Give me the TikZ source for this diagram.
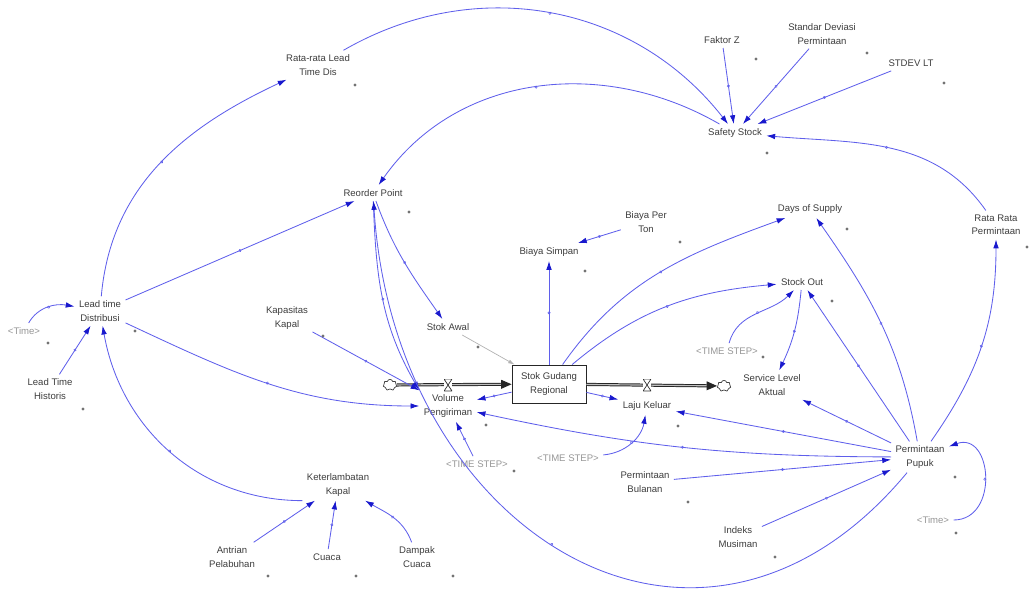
\documentclass[tikz,border=0pt]{standalone}
\usepackage{fontspec}
\setmainfont{Liberation Sans}
\usepackage{tikz}
\usepackage{xcolor}
\usetikzlibrary{shapes,arrows.meta,positioning,calc,decorations.markings}
\definecolor{linkBlue}{RGB}{95,95,235}
\definecolor{headBlue}{RGB}{25,25,205}
\definecolor{labelGray}{RGB}{60,60,60}
\definecolor{ghostGray}{RGB}{150,150,150}

\begin{document}
\begin{tikzpicture}[
            x=0.025cm, y=0.025cm,
            var/.style={align=center, inner sep=3pt, font=\fontsize{6.8}{9.5}\selectfont, text=labelGray},
            ghost/.style={var, text=ghostGray},
            stock/.style={rectangle, draw=black!85, fill=white, line width=0.6pt, minimum width=1.85cm, minimum height=0.95cm, align=center, font=\fontsize{6.8}{9.5}\selectfont, text=labelGray},
            link/.style={draw=linkBlue, line width=0.6pt, -{Latex[length=2.2mm,width=1.4mm,color=headBlue]},
                postaction={decorate}, decoration={markings, mark=at position 0.5 with {\draw[linkBlue, line width=0.4pt] (0,0) circle (0.8pt);}}},
            initlink/.style={draw=black!30, line width=0.5pt, -{Latex[length=1.6mm,width=1mm]}},
            pipe/.style={draw=black!85, double=black!25, double distance=0.8pt, line width=0.7pt, -{Triangle[length=2.6mm,width=2.2mm]}},
            valve/.style={minimum width=0.2cm, minimum height=0.3cm, inner sep=0pt, fill=white,
                path picture={\draw[black!80, line width=0.5pt] (path picture bounding box.north west) -- (path picture bounding box.north east) -- (path picture bounding box.south west) -- (path picture bounding box.south east) -- cycle;}},
            cloudy/.style={cloud, cloud puffs=7, draw=black!75, fill=white, line width=0.5pt, minimum width=0.34cm, minimum height=0.28cm, inner sep=0pt},
            dotmark/.style={circle, fill=black!55, inner sep=0pt, minimum size=2.2pt}
        ]
            \useasboundingbox (0,0) rectangle (1029,-592);

            % Variables
            \node[var] (rlt) at (318,-65) {Rata-rata Lead\\Time Dis};
            \node[var] (fz) at (722,-40) {Faktor Z};
            \node[var] (sdp) at (822,-34) {Standar Deviasi\\Permintaan};
            \node[var] (stdlt) at (911,-63) {STDEV LT};
            \node[var] (ss) at (735,-133) {Safety Stock};
            \node[var] (rop) at (373,-193) {Reorder Point};
            \node[var] (bpt) at (646,-222) {Biaya Per\\Ton};
            \node[var] (bs) at (549,-252) {Biaya Simpan};
            \node[var] (dos) at (810,-209) {Days of Supply};
            \node[var] (rrp) at (996,-225) {Rata Rata\\Permintaan};
            \node[var] (so) at (802,-282) {Stock Out};
            \node[var] (ltd) at (100,-311) {Lead time\\Distribusi};
            \node[ghost] (timeA) at (24,-331) {\textless Time\textgreater};
            \node[var] (lth) at (50,-389) {Lead Time\\Historis};
            \node[var] (kk) at (287,-318) {Kapasitas\\Kapal};
            \node[var] (sa) at (448,-327) {Stok Awal};
            \node[var] (vp) at (448,-406) {Volume\\Pengiriman};
            \node[var] (lk) at (647,-406) {Laju Keluar};
            \node[ghost] (tsA) at (727,-351) {\textless TIME STEP\textgreater};
            \node[var] (sla) at (772,-385) {Service Level\\Aktual};
            \node[ghost] (tsB) at (477,-464) {\textless TIME STEP\textgreater};
            \node[ghost] (tsC) at (568,-458) {\textless TIME STEP\textgreater};
            \node[var] (pp) at (920,-457) {Permintaan\\Pupuk};
            \node[var] (pb) at (645,-482) {Permintaan\\Bulanan};
            \node[var] (im) at (738,-537) {Indeks\\Musiman};
            \node[ghost] (timeB) at (933,-520) {\textless Time\textgreater};
            \node[var] (ktk) at (338,-485) {Keterlambatan\\Kapal};
            \node[var] (ap) at (232,-557) {Antrian\\Pelabuhan};
            \node[var] (cu) at (327,-557) {Cuaca};
            \node[var] (dc) at (417,-557) {Dampak\\Cuaca};

            % Stock and flows
            \node[stock] (sgr) at (549,-384) {Stok Gudang\\Regional};
            \node[cloudy] (cL) at (390,-385) {};
            \node[cloudy] (cR) at (724,-386) {};
            \draw[pipe] (cL) -- (sgr);
            \draw[pipe] (sgr) -- (cR);
            \node[valve] (vL) at (448,-385) {};
            \node[valve] (vR) at (647,-385) {};

            % Links
            \draw[link] (ltd) to[out=85, in=205] (rlt);
            \draw[link] (rlt) to[out=30, in=128] (ss);
            \draw[link] (ss) to[out=150, in=55] (rop);
            \draw[link] (fz) -- (ss);
            \draw[link] (sdp) -- (ss);
            \draw[link] (stdlt) -- (ss);
            \draw[link] (rrp) to[out=125, in=-5] (ss);
            \draw[link] (ltd) -- (rop);
            \draw[link] (rop) to[out=-70, in=125] (sa);
            \draw[link] (rop) to[out=-88, in=120] (vp.north west);
            \draw[link] (pp) .. controls (700,-722) and (395,-535) .. (rop);
            \draw[link] (sgr) -- (bs);
            \draw[link] (bpt) -- (bs);
            \draw[link] (sgr) to[out=55, in=200] (dos);
            \draw[link] (sgr) to[out=40, in=185] (so);
            \draw[link] (tsA) to[out=75, in=225] (so);
            \draw[link] (so) to[bend left=10] (sla);
            \draw[link] (pp) -- (sla);
            \draw[link] (pp) -- (so);
            \draw[link] (pp) to[out=100, in=-55] (dos);
            \draw[link] (pp) to[out=55, in=-90] (rrp);
            \draw[link] (pp) -- (lk);
            \draw[link] (pp) to[bend left=6] (vp);
            \draw[link] (pb) -- (pp);
            \draw[link] (im) -- (pp);
            \draw[link] (timeB) to[out=0, in=20, looseness=1.6] (pp);
            \draw[link] (sgr) -- (lk);
            \draw[link] (sgr) -- (vp);
            \draw[link] (ltd) to[out=-25, in=180] (vp);
            \draw[link] (kk) -- (vp.north west);
            \draw[link] (ktk.south west) to[out=180, in=-80] (ltd);
            \draw[link] (ap) -- (ktk);
            \draw[link] (cu) -- (ktk);
            \draw[link] (dc) to[out=110, in=-30] (ktk);
            \draw[link] (tsB) -- (vp);
            \draw[link] (tsC) to[out=5, in=-100] (lk);
            \draw[link] (timeA) to[out=60, in=170] (ltd);
            \draw[link] (lth) -- (ltd);
            \draw[initlink] (sa) -- (sgr);

            % Small markers
            \node[dotmark] (rltdot) at (355,-85) {};
            \node[dotmark] (fzdot) at (756,-59) {};
            \node[dotmark] (sdpdot) at (867,-53) {};
            \node[dotmark] (stdltdot) at (944,-83) {};
            \node[dotmark] (ssdot) at (767,-153) {};
            \node[dotmark] (ropdot) at (409,-212) {};
            \node[dotmark] (bptdot) at (680,-242) {};
            \node[dotmark] (bsdot) at (585,-271) {};
            \node[dotmark] (dosdot) at (847,-229) {};
            \node[dotmark] (rrpdot) at (1027,-247) {};
            \node[dotmark] (sodot) at (832,-301) {};
            \node[dotmark] (ltddot) at (135,-331) {};
            \node[dotmark] (timeAdot) at (48,-343) {};
            \node[dotmark] (lthdot) at (83,-409) {};
            \node[dotmark] (kkdot) at (323,-336) {};
            \node[dotmark] (sadot) at (478,-347) {};
            \node[dotmark] (vpdot) at (486,-425) {};
            \node[dotmark] (lkdot) at (678,-426) {};
            \node[dotmark] (tsAdot) at (763,-357) {};
            \node[dotmark] (tsBdot) at (514,-471) {};
            \node[dotmark] (ppdot) at (955,-477) {};
            \node[dotmark] (pbdot) at (688,-502) {};
            \node[dotmark] (imdot) at (775,-557) {};
            \node[dotmark] (timeBdot) at (956,-533) {};
            \node[dotmark] (apdot) at (268,-576) {};
            \node[dotmark] (cudot) at (356,-576) {};
            \node[dotmark] (dcdot) at (453,-576) {};
\end{tikzpicture}
\end{document}
